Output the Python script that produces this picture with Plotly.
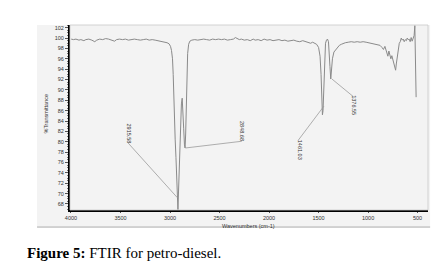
import plotly.graph_objects as go

# Spectrum data (wavenumber cm-1, %Transmittance)
wavenumber = [3998, 3975, 3950, 3920, 3900, 3870, 3850, 3820, 3790, 3760, 3740, 3710, 3680, 3650, 3620, 3590,
              3560, 3540, 3510, 3480, 3450, 3420, 3390, 3360, 3330, 3300, 3270, 3240, 3210, 3180, 3150,
              3120, 3090, 3060, 3030, 3010, 2995, 2985, 2975, 2968, 2962, 2957, 2954, 2951, 2948, 2940,
              2932, 2925, 2920, 2914, 2905, 2895, 2885, 2877, 2870, 2862, 2854, 2848, 2842, 2836, 2830,
              2822, 2812, 2800, 2780, 2750, 2720, 2690, 2660, 2630, 2600, 2570, 2540, 2510, 2480, 2450,
              2420, 2390, 2360, 2340, 2320, 2300, 2280, 2250, 2220, 2190, 2160, 2140, 2110, 2080, 2050,
              2020, 1990, 1960, 1930, 1900, 1870, 1840, 1810, 1780, 1750, 1720, 1690, 1660, 1630, 1600,
              1580, 1560, 1540, 1520, 1500, 1485, 1475, 1468, 1461, 1455, 1448, 1440, 1430, 1420, 1410,
              1400, 1392, 1385, 1377, 1370, 1360, 1345, 1330, 1310, 1290, 1270, 1250, 1230, 1200, 1170,
              1140, 1110, 1080, 1050, 1020, 990, 960, 930, 900, 880, 860, 845, 830, 815, 800,
              790, 780, 770, 760, 750, 740, 730, 722, 715, 705, 695, 685, 675, 665, 655,
              645, 635, 625, 613, 605, 595, 585, 575, 565, 555, 545, 535, 528, 524, 520,
              518, 515]
transmittance = [99.8, 99.7, 99.8, 99.6, 99.7, 99.5, 99.7, 99.8, 99.6, 99.3, 99.6, 99.8, 99.7, 99.9, 99.8, 99.6,
                 99.4, 99.7, 99.8, 99.7, 99.8, 99.6, 99.7, 99.8, 99.7, 99.6, 99.7, 99.8, 99.6, 99.7, 99.6,
                 99.5, 99.4, 99.3, 99.1, 98.9, 98.4, 97.6, 96.0, 93.0, 88.5, 83.5, 81.3, 81.6, 80.5, 77.0,
                 72.5, 68.5, 66.9, 70.5, 77.5, 83.5, 87.3, 88.4, 86.5, 82.5, 79.4, 78.8, 81.5, 87.0, 93.0,
                 97.0, 98.8, 99.4, 99.6, 99.7, 99.6, 99.7, 99.8, 99.7, 99.6, 99.8, 99.7, 99.8, 99.7, 99.8,
                 99.6, 99.7, 99.8, 100.1, 99.9, 99.7, 99.8, 99.6, 99.7, 99.5, 99.8, 99.6, 99.7, 99.5, 99.8,
                 99.6, 99.7, 99.5, 99.6, 99.7, 99.5, 99.6, 99.4, 99.5, 99.6, 99.4, 99.3, 99.5, 99.3, 99.2,
                 99.0, 99.2, 99.0, 98.8, 98.2, 96.5, 93.0, 89.0, 85.2, 86.0, 91.0, 96.0, 99.0, 99.6, 99.8,
                 99.3, 97.5, 94.5, 92.1, 93.5, 96.0, 97.3, 97.7, 98.3, 98.6, 98.8, 99.0, 99.1, 99.2, 99.3,
                 99.2, 99.3, 99.2, 99.3, 99.2, 99.1, 99.0, 98.9, 98.8, 98.6, 98.2, 97.8, 98.4, 97.2, 96.5,
                 97.5, 96.8, 96.0, 96.6, 95.8, 95.0, 94.2, 93.8, 95.0, 96.5, 98.0, 99.0, 99.3, 100.0, 99.6,
                 99.8, 99.3, 99.7, 99.5, 100.0, 99.7, 99.8, 99.3, 100.1, 99.4, 99.8, 100.5, 102.4, 96.0, 88.6,
                 89.5, 88.6]

# Peak labels with leader lines
peak_labels = ["2915.58", "2848.68", "1461.03", "1376.55"]
label_x = [3415, 2275, 1685, 1145]
label_y = [81.6, 82.1, 78.4, 87.1]
leader_peak_x = [2925, 2845, 1445, 1365]
leader_peak_y = [69.2, 78.8, 86.9, 92.1]
leader_end_x = [3425, 2275, 1705, 1155]
leader_end_y = [79.8, 80.1, 80.3, 88.8]

y_ticks = list(range(68, 103, 2))
x_ticks = [4000, 3500, 3000, 2500, 2000, 1500, 1000, 500]

fig = go.Figure()
fig.add_trace(go.Scatter(x=wavenumber, y=transmittance, mode="lines",
                         line=dict(color="#8a8a8a", width=1), hoverinfo="skip", showlegend=False))

for i in range(len(peak_labels)):
    fig.add_shape(type="line", xref="x", yref="y",
                  x0=leader_peak_x[i], y0=leader_peak_y[i], x1=leader_end_x[i], y1=leader_end_y[i],
                  line=dict(color="#9a9a9a", width=0.8))
    fig.add_annotation(x=label_x[i], y=label_y[i], xref="x", yref="y", text=peak_labels[i],
                       showarrow=False, textangle=90,
                       font=dict(family="Liberation Sans", size=5.5, color="#333333"))

# gray scanned panel background
fig.add_shape(type="rect", xref="paper", yref="paper", x0=-0.092, x1=1.006, y0=-0.097, y1=1.0,
              fillcolor="#f3f3f3", line=dict(width=0), layer="below")
fig.add_shape(type="line", xref="paper", yref="paper", x0=-0.092, x1=1.006, y0=-0.092, y1=-0.092,
              line=dict(color="#b0b0b0", width=1))
fig.add_shape(type="rect", xref="paper", yref="paper", x0=0, x1=1, y0=0, y1=1,
              line=dict(color="#c8c8c8", width=0.8), fillcolor="rgba(0,0,0,0)")

fig.add_annotation(xref="paper", yref="paper", x=(40.5 - 70) / 358, y=(210 - 114) / 185,
                   text="%Transmittance", textangle=-90, showarrow=False,
                   font=dict(family="Liberation Sans", size=5.5, color="#333333"))
fig.add_annotation(xref="paper", yref="paper", x=(248 - 70) / 358, y=(210 - 225.5) / 185,
                   yanchor="middle", text="Wavenumbers (cm-1)", showarrow=False,
                   font=dict(family="Liberation Sans", size=5.5, color="#333333"))
fig.add_annotation(xref="paper", yref="paper", x=(25 - 70) / 358, y=(210 - 253) / 185,
                   xanchor="left", yanchor="middle", showarrow=False,
                   text="<b>Figure 5:</b> FTIR for petro-diesel.",
                   font=dict(family="Liberation Serif", size=15, color="#000000"))

fig.update_layout(
    width=440, height=270,
    margin=dict(l=70, r=12, t=25, b=60),
    paper_bgcolor="white", plot_bgcolor="#f3f3f3",
    xaxis=dict(range=[4010, 395], tickvals=x_ticks, ticktext=[str(v) for v in x_ticks],
               showgrid=False, zeroline=False, showline=True, linecolor="black", linewidth=2,
               ticks="outside", ticklen=1, tickcolor="#555555", tickwidth=0.8,
               tickfont=dict(family="Liberation Sans", size=5.5, color="#333333")),
    yaxis=dict(range=[66.84, 102.52], tickvals=y_ticks, ticktext=[str(v) for v in y_ticks],
               showgrid=False, zeroline=False, showline=True, linecolor="black", linewidth=2,
               ticks="outside", ticklen=3, tickcolor="#555555", tickwidth=0.8,
               minor=dict(dtick=0.5, ticks="outside", ticklen=1.5, tickcolor="#777777", tickwidth=0.5),
               tickfont=dict(family="Liberation Sans", size=5.5, color="#333333")),
)

fig.write_html("out.html")
